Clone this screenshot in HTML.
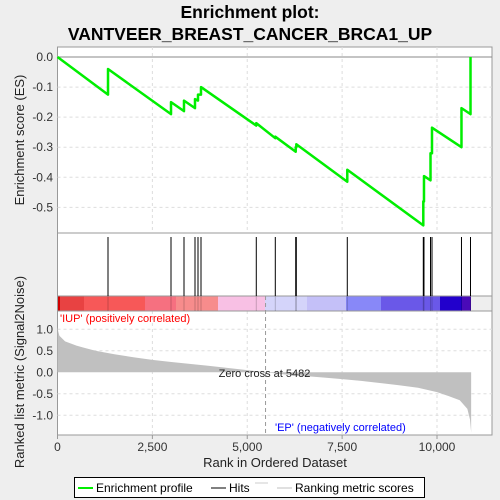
<!DOCTYPE html>
<html><head><meta charset="utf-8"><style>
body{margin:0;background:#eeeeee;}
svg{display:block;font-family:"Liberation Sans",sans-serif;}
</style></head><body>
<svg id="c" width="500" height="500" xmlns="http://www.w3.org/2000/svg">
<rect width="500" height="500" fill="#eeeeee"/>
<text x="250" y="18" text-anchor="middle" font-size="17.5" font-weight="bold">Enrichment plot:</text>
<text x="250" y="40" text-anchor="middle" font-size="17.5" font-weight="bold">VANTVEER_BREAST_CANCER_BRCA1_UP</text>
<g id="g"></g>
</svg>
<script>
const hitRanks=[1331,2991,3333,3623,3702,3781,5238,5739,6277,6293,7636,9639,9657,9829,9868,10645,10883];
const esBefore=[-0.125,-0.19,-0.18,-0.17,-0.145,-0.125,-0.228,-0.27,-0.315,-0.30,-0.415,-0.56,-0.48,-0.41,-0.32,-0.30,-0.19];
const esAfter=[-0.04,-0.15,-0.145,-0.14,-0.125,-0.10,-0.22,-0.265,-0.30,-0.29,-0.375,-0.48,-0.396,-0.32,-0.235,-0.17,0.0];
const metricRanks=[0,20,50,200,500,700,1000,1500,2000,2500,3000,4000,5000,5482,6000,7000,7500,8000,9000,9500,10000,10300,10600,10800,10870,10900];
const metricValues=[1.05,0.95,0.85,0.72,0.62,0.57,0.5,0.42,0.35,0.29,0.24,0.15,0.05,0,-0.05,-0.12,-0.16,-0.2,-0.3,-0.36,-0.46,-0.55,-0.65,-0.85,-1.1,-1.4];
const xTicks=[0,2500,5000,7500,10000];
const xTickLabels=["0","2,500","5,000","7,500","10,000"];
const esTicks=[0,-0.1,-0.2,-0.3,-0.4,-0.5];
const esTickLabels=["0.0","-0.1","-0.2","-0.3","-0.4","-0.5"];
const mTicks=[1,0.5,0,-0.5,-1];
const mTickLabels=["1.0","0.5","0.0","-0.5","-1.0"];
const barEnds=[60,84,145,176,218,265,307,346,381,440,462,471];
const barColors=["#d00000","#e84242","#f75858","#f67080","#f78c8c","#f8c0e4","#d4d4fa","#c4c0f8","#8888f8","#6a58e8","#2200cc","#4a0ab8"];
const zeroCross=5482, nTotal=10900;

const L=57.5,R=492;
const X=r=>L+r*0.03795;
const YE=v=>57-v*300.7;
const YM=v=>372.3-v*43;
const g=document.getElementById('g');
const NS="http://www.w3.org/2000/svg";
function mk(t,a,p){const e=document.createElementNS(NS,t);for(const k in a)e.setAttribute(k,a[k]);(p||g).appendChild(e);return e;}

let e;
e=mk('rect',{x:L,y:47,width:R-L,height:186,fill:'#fff',stroke:'#999'});


e=mk('rect',{x:L,y:233,width:R-L,height:63,fill:'#fff',stroke:'#999'});


e=mk('rect',{x:L,y:311,width:R-L,height:124,fill:'#fff',stroke:'#999'});



xTicks.forEach(t=>{if(t>0){
 e=mk('line',{x1:X(t),x2:X(t),y1:47,y2:233,stroke:'#ddd','stroke-dasharray':'3,3'});
 
 
 e=mk('line',{x1:X(t),x2:X(t),y1:311,y2:435,stroke:'#ddd','stroke-dasharray':'3,3'});
 
 
}});
esTicks.forEach((t,i)=>{
 if(t!==0){e=mk('line',{x1:L,x2:R,y1:YE(t),y2:YE(t),stroke:'#ddd','stroke-dasharray':'3,3'});
 
 }
 e=mk('text',{x:53,y:YE(t)+4,'text-anchor':'end','font-size':12,fill:'#333'});
 e.textContent=esTickLabels[i];
 
 
});
e=mk('line',{x1:L,x2:R,y1:YE(0),y2:YE(0),stroke:'#888'});


mTicks.forEach((t,i)=>{
 if(t!==0){e=mk('line',{x1:L,x2:R,y1:YM(t),y2:YM(t),stroke:'#ddd','stroke-dasharray':'3,3'});
 
 }
 e=mk('text',{x:53,y:YM(t)+4,'text-anchor':'end','font-size':12,fill:'#333'});
 e.textContent=mTickLabels[i];
 
 
});

let prev=L;
barEnds.forEach((b,i)=>{
 e=mk('rect',{x:prev,y:296,width:b-prev,height:15,fill:barColors[i]});
 
 
 prev=b;
});
e=mk('rect',{x:L,y:296,width:R-L,height:15,fill:'none',stroke:'#999'});



hitRanks.forEach(r=>{
 e=mk('line',{x1:X(r),x2:X(r),y1:237,y2:296,stroke:'#000','stroke-width':1});
 
 
 e=mk('line',{x1:X(r),x2:X(r),y1:296,y2:311,stroke:'rgba(0,0,0,0.2)'});
 
 
});

let d='M'+X(0)+','+YM(0);
metricRanks.forEach((r,i)=>{d+=' L'+X(r)+','+YM(metricValues[i]);});
d+=' L'+X(nTotal)+','+YM(0)+' Z';
e=mk('path',{d:d,fill:'#c0c0c0'});



e=mk('line',{x1:X(zeroCross),x2:X(zeroCross),y1:296,y2:435,stroke:'#999','stroke-dasharray':'4,3'});


e=mk('text',{x:X(zeroCross)-1,y:377,'text-anchor':'middle','font-size':11,fill:'#222'});
e.textContent='Zero cross at '+zeroCross;


e=mk('text',{x:60,y:322,'font-size':11,fill:'#ff0000'});
e.textContent="'IUP' (positively correlated)";


e=mk('text',{x:275,y:431,'font-size':11,fill:'#0000ff'});
e.textContent="'EP' (negatively correlated)";



let p='M'+X(0)+','+YE(0);
hitRanks.forEach((r,i)=>{p+=' L'+X(r)+','+YE(esBefore[i])+' L'+X(r)+','+YE(esAfter[i]);});
e=mk('path',{d:p,fill:'none',stroke:'#00ee00','stroke-width':2.5,'stroke-linejoin':'round'});



xTicks.forEach((t,i)=>{
 e=mk('line',{x1:X(t),x2:X(t),y1:435,y2:439,stroke:'#999'});
 
 
 e=mk('text',{x:X(t),y:451,'text-anchor':'middle','font-size':12,fill:'#333'});
 e.textContent=xTickLabels[i];
 
 
});
e=mk('text',{x:275,y:467,'text-anchor':'middle','font-size':13,fill:'#222'});
e.textContent='Rank in Ordered Dataset';


e=mk('text',{x:0,y:0,'text-anchor':'middle','font-size':13,fill:'#222',transform:'translate(24,140) rotate(-90)'});
e.textContent='Enrichment score (ES)';


e=mk('text',{x:0,y:0,'text-anchor':'middle','font-size':13,fill:'#222',transform:'translate(24,372) rotate(-90)'});
e.textContent='Ranked list metric (Signal2Noise)';



const lg=mk('g',{});


e=mk('rect',{x:74.5,y:477.5,width:350,height:20,fill:'#fff',stroke:'#000'},lg);


e=mk('line',{x1:78,x2:93,y1:488,y2:488,stroke:'#00ee00','stroke-width':2},lg);


e=mk('text',{x:96,y:492,'font-size':12},lg);e.textContent='Enrichment profile';


e=mk('line',{x1:211,x2:226,y1:488,y2:488,stroke:'#000'},lg);


e=mk('text',{x:229,y:492,'font-size':12},lg);e.textContent='Hits';


e=mk('line',{x1:255,x2:268,y1:483,y2:483,stroke:'#ccc'},lg);


e=mk('line',{x1:277,x2:292,y1:488,y2:488,stroke:'#c0c0c0'},lg);


e=mk('text',{x:295,y:492,'font-size':12},lg);e.textContent='Ranking metric scores';


</script>
</body></html>
